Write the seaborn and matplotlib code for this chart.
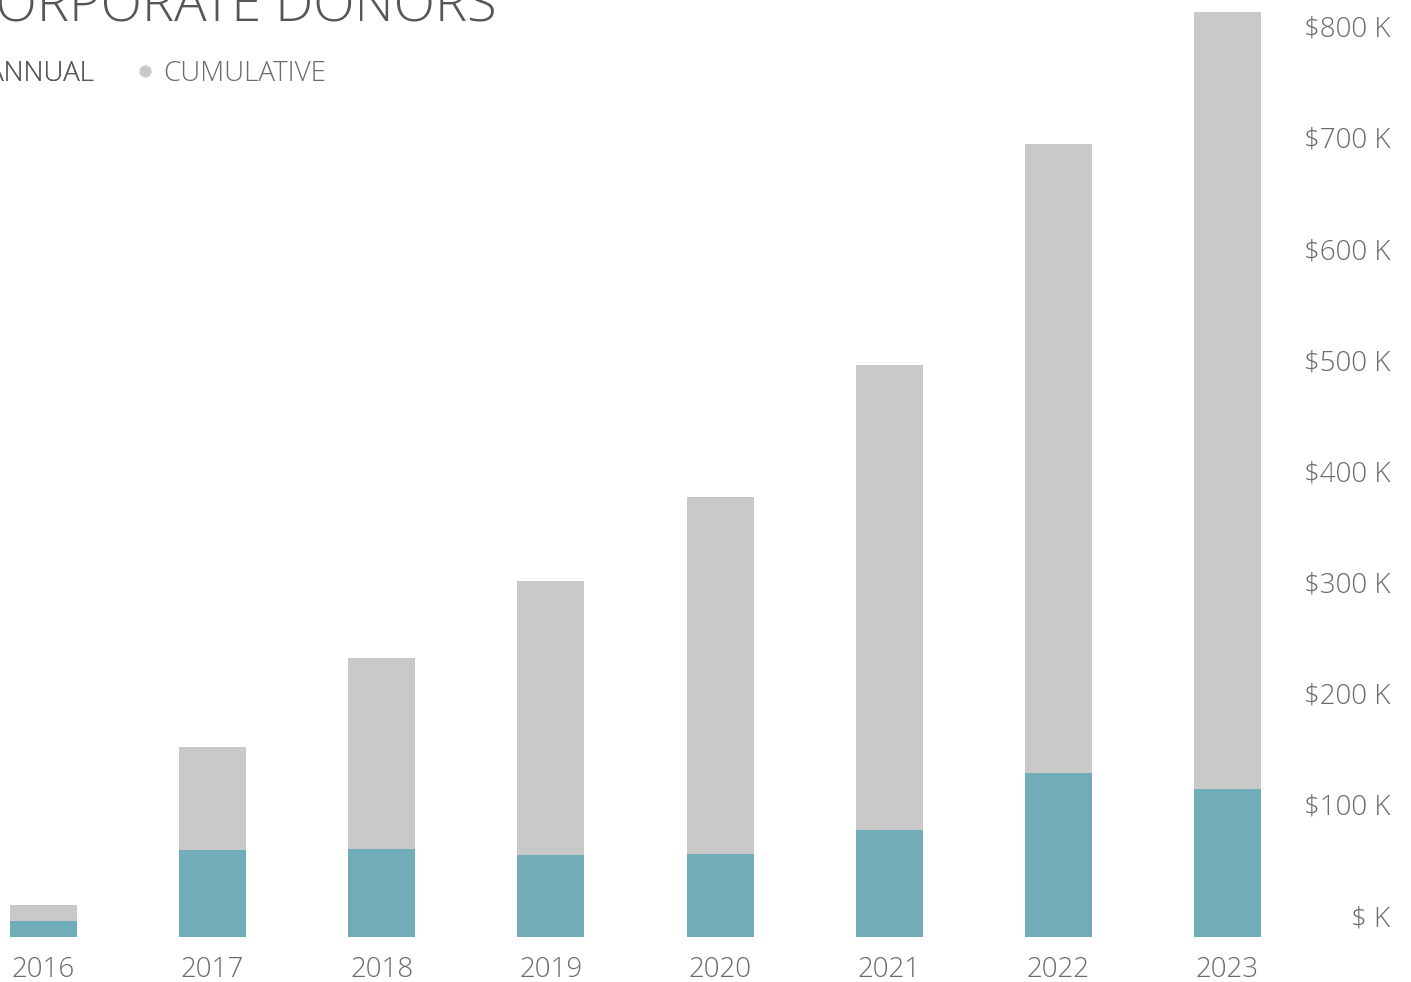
import matplotlib
matplotlib.use("Agg")
import matplotlib.pyplot as plt
import matplotlib.transforms as mtransforms
from matplotlib.lines import Line2D
import seaborn as sns
import pandas as pd

years = ["2016", "2017", "2018", "2019", "2020", "2021", "2022", "2023"]
annual = [14.4, 78.3, 79.2, 73.8, 74.7, 96.3, 147.6, 133.2]
cumulative = [14.4, 92.7, 171.9, 246.6, 321.3, 418.6, 566.2, 699.4]
y_ticks = [0, 100, 200, 300, 400, 500, 600, 700, 800]
y_tick_labels = ["$ K", "$100 K", "$200 K", "$300 K", "$400 K", "$500 K", "$600 K", "$700 K", "$800 K"]
title = "CORPORATE DONORS"
legend_labels = ["ANNUAL", "CUMULATIVE"]

TEAL = "#70adb8"
GRAY = "#c8c9c8"
TICK_COLOR = "#6a6b6f"
TITLE_COLOR = "#55565a"
FONT = ["Open Sans", "DejaVu Sans"]
WEIGHT = "light"

sns.set_theme(style="white")
plt.rcParams["font.family"] = FONT
plt.rcParams["font.weight"] = WEIGHT

W, H = 1411, 982
fig = plt.figure(figsize=(W / 100, H / 100), dpi=100)

# axes placement in pixels
L_px, R_px = -41.1, 1312.0
B_px = 45.0
ax = fig.add_axes([L_px / W, B_px / H, (R_px - L_px) / W, (H - B_px) / H])

df = pd.DataFrame({"year": years, "annual": annual, "cumulative": cumulative})

sns.barplot(data=df, x="year", y="annual", color=TEAL, width=0.396,
            saturation=1, ax=ax, linewidth=0, edgecolor="none")
sns.barplot(data=df, x="year", y="cumulative", color=GRAY, width=0.396,
            saturation=1, ax=ax, linewidth=0, edgecolor="none",
            bottom=df["annual"].values)

ax.set_xlim(-0.5, 7.5)
ax.set_ylim(0, 843)
ax.set_xlabel("")
ax.set_ylabel("")
for s in ax.spines.values():
    s.set_visible(False)
ax.grid(False)

ax.yaxis.tick_right()
ax.set_yticks(y_ticks)
ax.set_yticklabels(y_tick_labels)
ax.tick_params(axis="y", length=0, pad=56.2, labelsize=20, labelcolor=TICK_COLOR)
ax.tick_params(axis="x", length=0, pad=14, labelsize=20, labelcolor=TICK_COLOR)
off = mtransforms.ScaledTranslation(0, 0.215, fig.dpi_scale_trans)
for lab in ax.get_yticklabels():
    lab.set_horizontalalignment("right")
    lab.set_transform(lab.get_transform() + off)
    lab.set_fontweight(WEIGHT)
for lab in ax.get_xticklabels():
    lab.set_fontweight(WEIGHT)

# title (partially off-canvas as in the reference)
fig.text(497 / W, (H - 22) / H, title, ha="right", va="baseline",
         fontsize=39, color=TITLE_COLOR, fontweight=WEIGHT)

# legend: two entries, the first partly off-canvas as in the reference
def dot(c):
    return Line2D([], [], marker="o", linestyle="none", markersize=8.8,
                  markerfacecolor=c, markeredgecolor="none")

leg_kw = dict(frameon=False, fontsize=20, handlelength=0.6, handletextpad=0.33,
              borderpad=0, borderaxespad=0)
leg1 = fig.legend([dot(TEAL)], legend_labels[:1], loc="center right",
                  bbox_to_anchor=(94 / W, (H - 74) / H), **leg_kw)
leg1.get_texts()[0].set_color(TITLE_COLOR)
leg2 = fig.legend([dot(GRAY)], legend_labels[1:], loc="center left",
                  bbox_to_anchor=(137 / W, (H - 74) / H), **leg_kw)
leg2.get_texts()[0].set_color(TICK_COLOR)
fig.add_artist(leg1)

fig.savefig("out.png", dpi=100)
